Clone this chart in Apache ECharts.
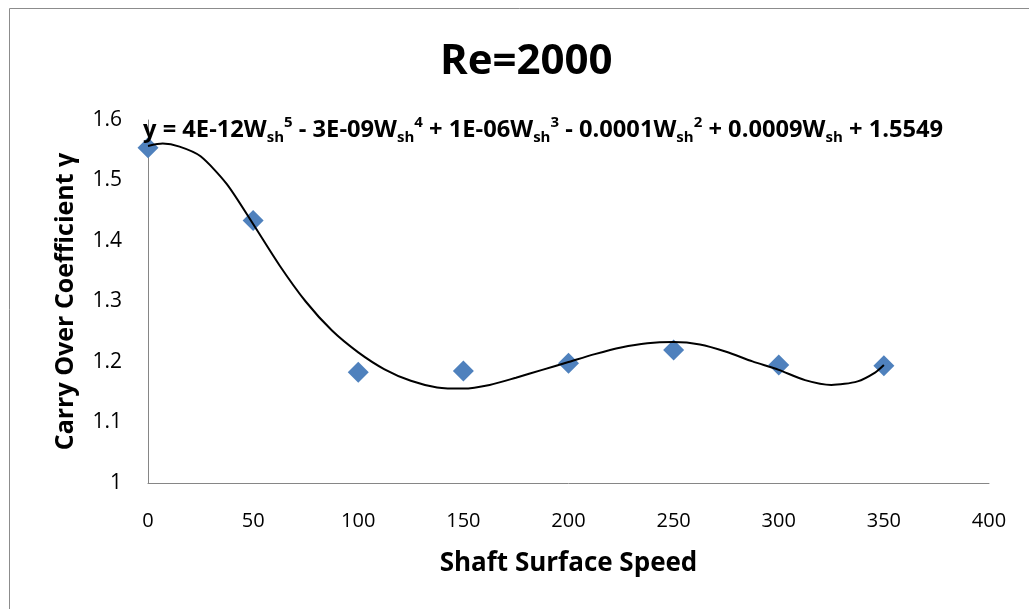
<!DOCTYPE html>
<html>
<head>
<meta charset="utf-8">
<script src="https://cdn.jsdelivr.net/npm/echarts@6/dist/echarts.min.js"></script>
<style>
html,body{margin:0;padding:0;background:#fff;}
#c{width:1029px;height:609px;}
</style>
</head>
<body>
<div id="c"></div>
<script>
// Data
const chartTitle = 'Re=2000';
const xTitle = 'Shaft Surface Speed';
const yTitle = 'Carry Over Coefficient γ';
const speeds = [0, 50, 100, 150, 200, 250, 300, 350];
const coeffs = [1.554, 1.434, 1.183, 1.185, 1.198, 1.220, 1.195, 1.194];
// Polynomial trendline (order 5) as drawn in the reference, read at x steps
const trendX = [0, 7, 15, 25, 37.5, 50, 62.5, 75, 87.5, 100, 112.5, 125, 137.5, 150, 162.5, 175,
                187.5, 200, 212.5, 225, 237.5, 250, 262.5, 275, 287.5, 300, 312.5, 325, 337.5, 346, 350];
const trendY = [1.557, 1.561, 1.556, 1.540, 1.494, 1.428, 1.360, 1.300, 1.252, 1.216, 1.188, 1.169, 1.158, 1.156, 1.162, 1.174,
                1.187, 1.200, 1.213, 1.224, 1.231, 1.233, 1.229, 1.217, 1.201, 1.187, 1.170, 1.162, 1.168, 1.183, 1.195];
// Equation pieces: [coefficient text, power]
const eqTerms = [['4E-12', 5], ['3E-09', 4], ['1E-06', 3], ['0.0001', 2], ['0.0009', 1]];
const eqSigns = ['', ' - ', ' + ', ' - ', ' + '];
const eqConst = ' + 1.5549';

const FONT = 'Open Sans';
let eqText = '{n|y = }';
eqTerms.forEach((t, i) => {
  eqText += (i > 0 ? '{n|' + eqSigns[i] + '}' : '') + '{n|' + t[0] + 'W}{sub|sh}';
  if (t[1] > 1) eqText += '{sup|' + t[1] + '}';
});
eqText += '{n|' + eqConst + '}';

const chart = echarts.init(document.getElementById('c'));
chart.setOption({
  backgroundColor: '#fff',
  animation: false,
  title: {
    text: chartTitle, left: 435, top: 36,
    textStyle: {fontFamily: FONT, fontSize: 42, fontWeight: 'bold', color: '#000'}
  },
  grid: {left: 148, right: 40, top: 120, bottom: 126},
  xAxis: {
    type: 'value', min: 0, max: 400, interval: 50,
    name: xTitle, nameLocation: 'middle', nameGap: 68,
    nameTextStyle: {fontFamily: FONT, fontSize: 26, fontWeight: 'bold', color: '#000'},
    axisLine: {show: true, lineStyle: {color: '#868686', width: 1}},
    axisTick: {show: false},
    splitLine: {show: false},
    axisLabel: {fontFamily: FONT, fontSize: 20, color: '#000', margin: 28}
  },
  yAxis: {
    type: 'value', min: 1, max: 1.6, interval: 0.1,
    name: yTitle, nameLocation: 'middle', nameGap: 70, nameRotate: 90,
    nameTextStyle: {fontFamily: FONT, fontSize: 25, fontWeight: 'bold', color: '#000'},
    axisLine: {show: true, lineStyle: {color: '#868686', width: 1}},
    axisTick: {show: false},
    splitLine: {show: false},
    axisLabel: {fontFamily: FONT, fontSize: 21, color: '#000', margin: 26}
  },
  series: [
    {
      type: 'scatter', symbol: 'diamond', symbolSize: 21,
      itemStyle: {color: '#4F81BD', opacity: 1},
      data: speeds.map((x, i) => [x, coeffs[i]]), z: 2
    },
    {
      type: 'line', smooth: 0.25, showSymbol: false, symbol: 'none',
      lineStyle: {color: '#000', width: 2},
      data: trendX.map((x, i) => [x, trendY[i]]), z: 3
    }
  ],
  graphic: [
    {
      type: 'polyline', silent: true,
      shape: {points: [[9.5, 640], [9.5, 8.5], [1100, 8.5]]},
      style: {fill: 'none', stroke: '#8c8c8c', lineWidth: 1}
    },
    {
      type: 'text', left: 143, top: 115, z: 10,
      style: {
        text: eqText,
        rich: {
          n: {fontFamily: FONT, fontSize: 23.7, fontWeight: 'bold', color: '#000', lineHeight: 30},
          sub: {fontFamily: FONT, fontSize: 15, fontWeight: 'bold', color: '#000', lineHeight: 14, verticalAlign: 'bottom'},
          sup: {fontFamily: FONT, fontSize: 15, fontWeight: 'bold', color: '#000', lineHeight: 16, verticalAlign: 'top'}
        }
      }
    }
  ]
});
</script>
</body>
</html>
